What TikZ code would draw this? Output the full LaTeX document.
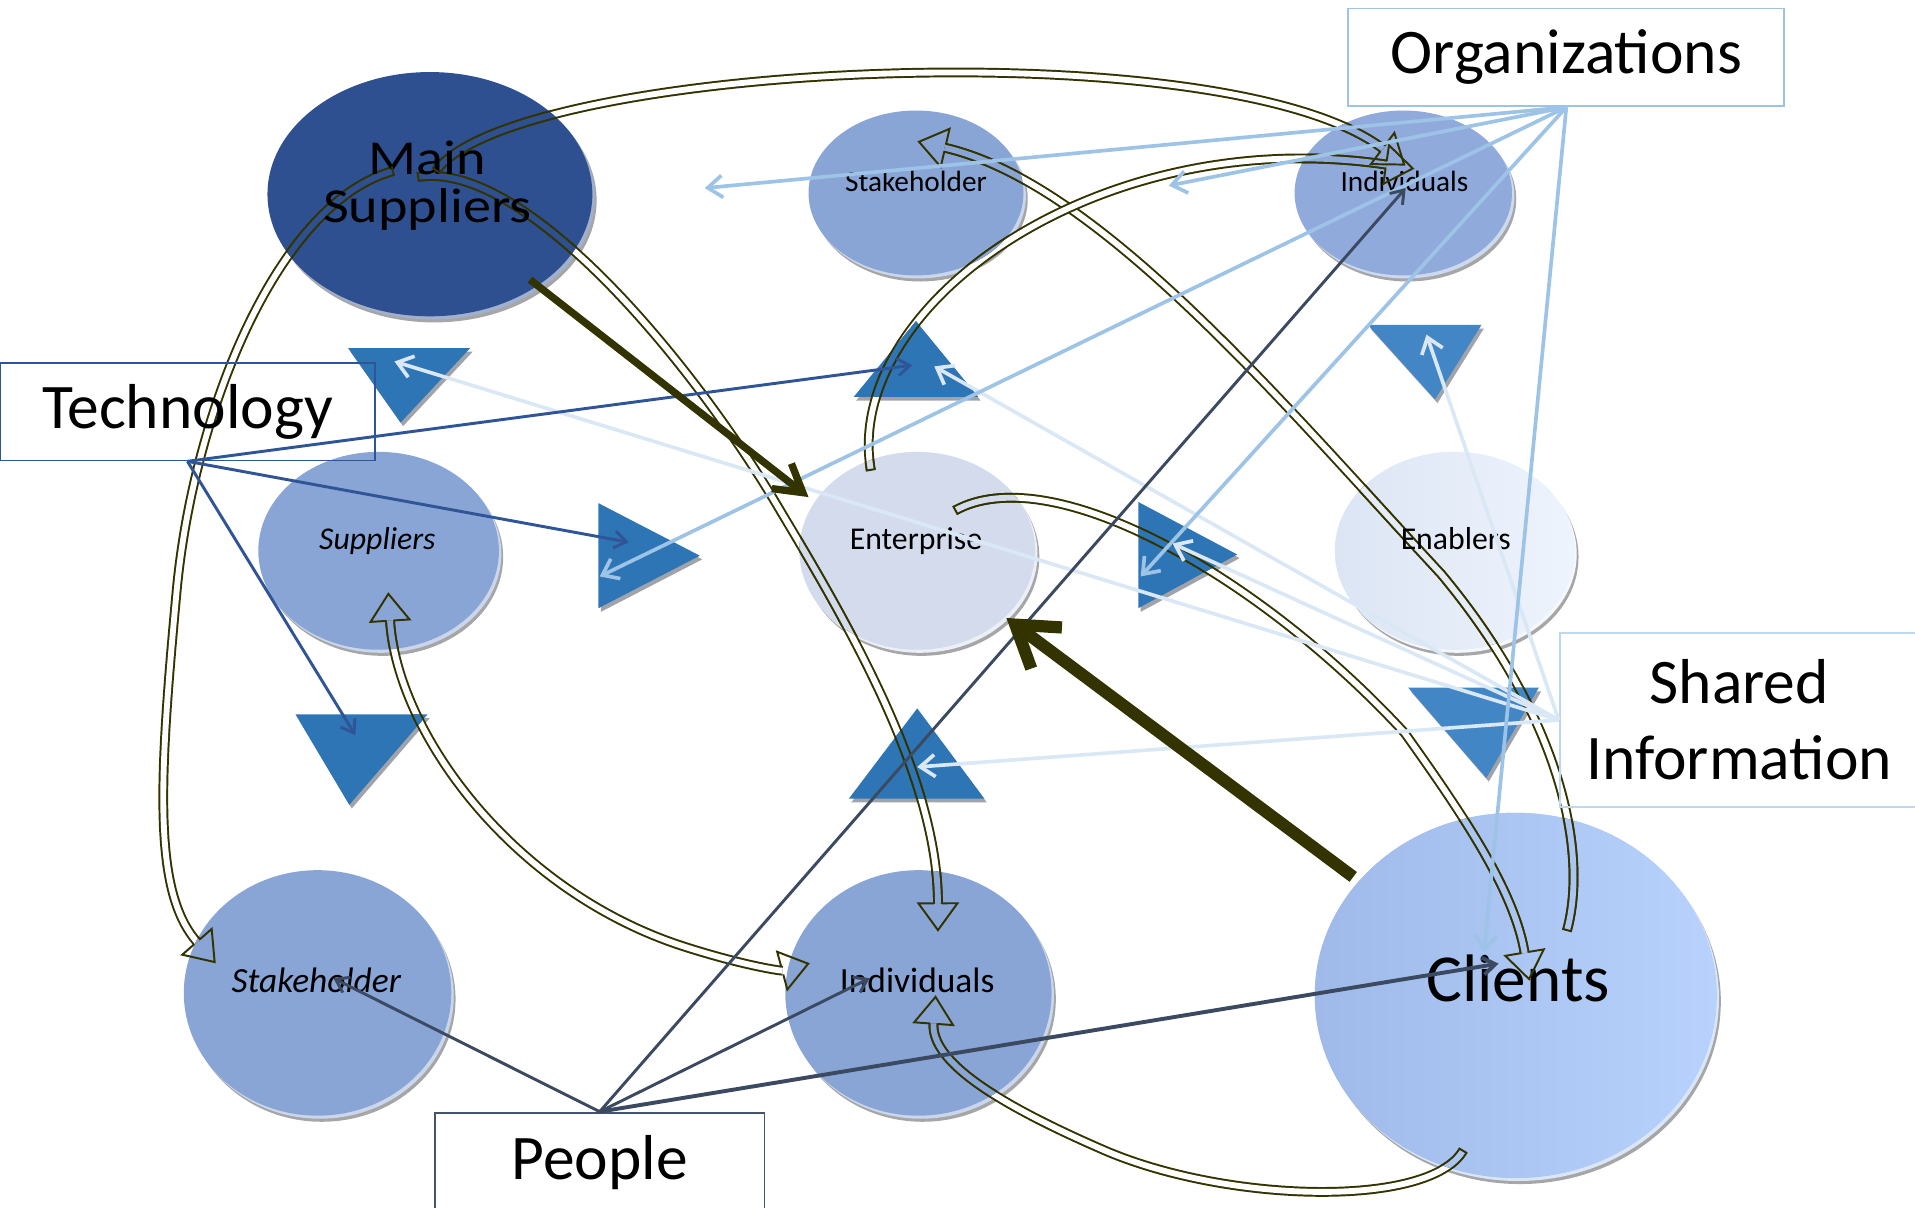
\documentclass[tikz,border=0pt]{standalone}
\usepackage{fontspec}
\setmainfont{Carlito}
\usetikzlibrary{arrows.meta,shapes.geometric,decorations.markings}
\definecolor{olivec}{HTML}{333300}
\definecolor{mainc}{HTML}{2E5090}
\definecolor{diskc}{HTML}{89A5D5}
\definecolor{indc}{HTML}{90ABDB}
\definecolor{entc}{HTML}{D3DBEC}
\definecolor{enac}{HTML}{E6EDF9}
\definecolor{enal}{HTML}{DCE5F4}
\definecolor{enar}{HTML}{EEF4FD}
\definecolor{clic}{HTML}{ABC5F2}
\definecolor{clil}{HTML}{9FBAE9}
\definecolor{clir}{HTML}{B8D2FD}
\definecolor{tric}{HTML}{2E75B6}
\definecolor{tricb}{HTML}{4286C6}
\definecolor{trish}{HTML}{A0A4AA}
\definecolor{orgc}{HTML}{9DC3E6}
\definecolor{shc}{HTML}{DAE8F6}
\definecolor{shbox}{HTML}{BDD7EE}
\definecolor{techc}{HTML}{2F5597}
\definecolor{pepc}{HTML}{3B4A60}
\definecolor{pepbox}{HTML}{44546A}
\newcommand{\bhead}{\draw[draw=olivec, line width=0.8pt, line join=miter] (-11pt,1.6pt) -- (-11pt,8pt) -- (0pt,0pt) -- (-11pt,-8pt) -- (-11pt,-1.6pt);}
\newcommand{\bheadst}{\draw[draw=olivec, line width=0.8pt, line join=miter] (11pt,1.6pt) -- (11pt,8pt) -- (0pt,0pt) -- (11pt,-8pt) -- (11pt,-1.6pt);}
\newcommand{\btail}{\draw[draw=olivec, line width=0.8pt] (0pt,-2pt) -- (0pt,2pt);}
\tikzset{
  disk/.style={ellipse, inner sep=0pt, draw=none},
  labelbox/.style={rectangle, inner sep=0pt, line width=0.75pt, font=\fontsize{26}{31}\selectfont, align=center},
  orgline/.style={draw=orgc, line width=1.5pt, -{Straight Barb[length=6pt,width=9pt]}},
  shline/.style={draw=shc, line width=1.5pt, -{Straight Barb[length=6pt,width=9pt]}},
  techline/.style={draw=techc, line width=1.2pt, -{Straight Barb[length=5pt,width=7pt]}},
  pepline/.style={draw=pepc, line width=1.2pt, -{Straight Barb[length=5pt,width=7pt]}},
  thickA/.style={draw=olivec, line width=3pt, -{Straight Barb[length=11pt,width=13pt]}},
  thickB/.style={draw=olivec, line width=5pt, -{Straight Barb[length=16pt,width=21pt]}},
  bshaft/.style={draw=olivec, line width=0.8pt, double=#1, double distance=2.4pt},
  bone/.style={decorate, decoration={markings,
     mark=at position 0.0005 with {\btail},
     mark=at position 0.9995 with {\bhead}}},
  btwo/.style={decorate, decoration={markings,
     mark=at position 0.0005 with {\bheadst},
     mark=at position 0.9995 with {\bhead}}},
  smalltxt/.style={anchor=base, inner sep=0pt, font=\fontsize{#1}{#1}\selectfont},
  italtxt/.style={anchor=base, inner sep=0pt, font=\fontsize{#1}{#1}\selectfont\itshape},
}
\newcommand{\mydisk}[7]{%
  \fill[black!35] (#2+3.5,#3+5) ellipse [x radius=#4, y radius=#5];
  \fill[#6!45!white] (#2+2,#3+2.5) ellipse [x radius=#4, y radius=#5];
  \node[disk, minimum width=2*#4, minimum height=2*#5, fill=#6, #7] (#1) at (#2,#3) {};
}
\newcommand{\allshafts}[1]{%
  \draw[bshaft=#1, shorten >=11pt] \cA;
  \draw[bshaft=#1, shorten >=11pt] \cB;
  \draw[bshaft=#1, shorten >=11pt] \cC;
  \draw[bshaft=#1, shorten >=11pt] \cD;
  \draw[bshaft=#1, shorten >=11pt] \cE;
  \draw[bshaft=#1, shorten >=11pt, shorten <=11pt] \cF;
  \draw[bshaft=#1, shorten >=11pt] \cG;
  \draw[bshaft=#1, shorten >=11pt] \cH;
}
\newcommand{\clipdisk}[5]{\begin{scope}\clip (#1,#2) ellipse [x radius=#3, y radius=#4]; \allshafts{#5}\end{scope}}
\newcommand{\cliptri}[2]{\begin{scope}\clip #1; \allshafts{#2}\end{scope}}
\begin{document}
\begin{tikzpicture}[x=0.5pt,y=-0.5pt]
\useasboundingbox (0,0) rectangle (1568,989);
% curve end points
\coordinate (a0) at (357,140); \coordinate (a1) at (1150,135);
\coordinate (b0) at (1283,762); \coordinate (b1) at (752,116);
\coordinate (c0) at (782,418); \coordinate (c1) at (1252,802);
\coordinate (d0) at (713,385); \coordinate (d1) at (1157,138);
\coordinate (e0) at (342,145); \coordinate (e1) at (768,762);
\coordinate (f0) at (318,486); \coordinate (f1) at (662,789);
\coordinate (g0) at (1198,942); \coordinate (g1) at (766,816);
\coordinate (h0) at (322,140); \coordinate (h1) at (176,788);
\def\cA{(a0) .. controls (420,52) and (1000,22) .. (a1)}
\def\cB{(b0) .. controls (1300,700) and (1280,590) .. (1180,470) .. controls (1050,330) and (900,150) .. (b1)}
\def\cC{(c0) .. controls (860,375) and (1030,470) .. (1150,600) .. controls (1200,670) and (1240,730) .. (c1)}
\def\cD{(d0) .. controls (690,250) and (900,100) .. (d1)}
\def\cE{(e0) .. controls (430,130) and (570,300) .. (640,420) .. controls (700,520) and (768,640) .. (e1)}
\def\cF{(f0) .. controls (325,600) and (420,730) .. (560,775) .. controls (610,791) and (640,795) .. (f1)}
\def\cG{(g0) .. controls (1170,990) and (1000,985) .. (900,940) .. controls (820,905) and (762,870) .. (g1)}
\def\cH{(h0) .. controls (230,165) and (160,330) .. (145,480) .. controls (130,640) and (125,730) .. (h1)}
% triangles
\def\tA{(285,285) -- (385,285) -- (328,346) -- cycle}
\def\tB{(750,263) -- (801,325) -- (699,325) -- cycle}
\def\tC{(1120,266) -- (1213,266) -- (1175,327) -- cycle}
\def\tD{(490,412) -- (573,455) -- (490,498) -- cycle}
\def\tE{(932,411) -- (1013,454) -- (932,498) -- cycle}
\def\tF{(242,585) -- (350,585) -- (286,659) -- cycle}
\def\tG{(751,580) -- (806,654) -- (695,654) -- cycle}
\def\tH{(1153,563) -- (1260,563) -- (1217,637) -- cycle}
% disks
\mydisk{main}{352}{159}{66.5pt}{50pt}{mainc}{}
\mydisk{stk1}{750}{158}{44pt}{33.75pt}{diskc}{}
\mydisk{ind1}{1149}{158}{44.5pt}{33.75pt}{indc}{}
\mydisk{sup}{310}{451}{49.25pt}{40.5pt}{diskc}{}
\mydisk{ent}{751}{451}{48.25pt}{40.5pt}{entc}{}
\mydisk{ena}{1191}{451}{49pt}{40.5pt}{enac}{left color=enal, right color=enar}
\mydisk{stk2}{260}{813}{54.75pt}{50.25pt}{diskc}{}
\mydisk{ind2}{752}{813}{54.5pt}{50.25pt}{diskc}{}
\mydisk{cli}{1241}{815}{82.25pt}{74.75pt}{clic}{left color=clil, right color=clir}
% triangles
\foreach \t in {\tA,\tB,\tD,\tE,\tF,\tG}{\fill[trish, shift={(2,3)}] \t; \fill[tric] \t;}
\foreach \t in {\tC,\tH}{\fill[trish, shift={(2,3)}] \t; \fill[tricb] \t;}
% curved block arrows (shafts)
\allshafts{white}
\clipdisk{352}{159}{66.5pt}{50pt}{mainc}
\clipdisk{750}{158}{44pt}{33.75pt}{diskc}
\clipdisk{1149}{158}{44.5pt}{33.75pt}{indc}
\clipdisk{310}{451}{49.25pt}{40.5pt}{diskc}
\clipdisk{751}{451}{48.25pt}{40.5pt}{entc}
\clipdisk{1191}{451}{49pt}{40.5pt}{enac}
\clipdisk{260}{813}{54.75pt}{50.25pt}{diskc}
\clipdisk{752}{813}{54.5pt}{50.25pt}{diskc}
\clipdisk{1241}{815}{82.25pt}{74.75pt}{clic}
\cliptri{\tB}{tric}
\cliptri{\tE}{tric}
\cliptri{\tG}{tric}
\cliptri{\tH}{tricb}
\cliptri{\tF}{tric}
% label boxes
\node[labelbox, draw=orgc, minimum width=178.5pt, minimum height=40pt] (orgB) at (1282.5,47) {Organizations};
\node[labelbox, draw=techc, minimum width=153.5pt, minimum height=40pt] (techB) at (153.5,337) {Technology};
\node[labelbox, draw=shbox, minimum width=147pt, minimum height=71.5pt] (shareB) at (1424,589.5) {Shared\\Information};
\node[labelbox, draw=pepbox, minimum width=135pt, minimum height=41pt] (pepB) at (491,952) {People};
% disk texts
\node[inner sep=0pt, align=center, font=\fontsize{20}{19.5}\selectfont, xscale=1.15] (mainT) at (350,152) {Main\\Suppliers};
\node[smalltxt=12] (stk1T) at (750,157) {Stakeholder};
\node[smalltxt=12] (ind1T) at (1150,157) {Individuals};
\node[italtxt=13] (supT) at (309,450) {Suppliers};
\node[smalltxt=13] (entT) at (750,450) {Enterprise};
\node[smalltxt=13] (enaT) at (1192,450) {Enablers};
\node[italtxt=14.5] (stk2T) at (259,813) {Stakeholder};
\node[smalltxt=14.5] (ind2T) at (751,813) {Individuals};
\node[smalltxt=27.5] (cliT) at (1243,820) {Clients};
% heads of block arrows
\path[bone] \cA;
\path[bone] \cB;
\path[bone] \cC;
\path[bone] \cD;
\path[bone] \cE;
\path[btwo] \cF;
\path[bone] \cG;
\path[bone] \cH;
% target points
\coordinate (o1) at (577,154); \coordinate (o2) at (957,152); \coordinate (o3) at (491,472);
\coordinate (o4) at (934,472); \coordinate (o5) at (1215,780);
\coordinate (s1) at (323,296); \coordinate (s2) at (765,300); \coordinate (s3) at (960,445);
\coordinate (s4) at (751,628); \coordinate (s5) at (1168,274);
\coordinate (t1) at (747,299); \coordinate (t2) at (515,444); \coordinate (t3) at (291,602);
\coordinate (p1) at (273,801); \coordinate (p2) at (1151,154); \coordinate (p3) at (712,801); \coordinate (p4) at (1227,789);
\coordinate (k1s) at (434,229); \coordinate (k1e) at (662,407);
\coordinate (k2s) at (1108,718); \coordinate (k2e) at (824,506);
% straight connectors
\foreach \p in {s1,s2,s3,s4,s5}{\draw[shline] (shareB.west) -- (\p);}
\foreach \p in {o1,o2,o3,o4,o5}{\draw[orgline] (orgB.south) -- (\p);}
\foreach \p in {t1,t2,t3}{\draw[techline] (techB.south) -- (\p);}
\foreach \p in {p1,p2,p3}{\draw[pepline] (pepB.north) -- (\p);}
\draw[pepline, line width=1.6pt] (pepB.north) -- (p4);
\draw[thickA] (k1s) -- (k1e);
\draw[thickB] (k2s) -- (k2e);
\end{tikzpicture}
\end{document}
